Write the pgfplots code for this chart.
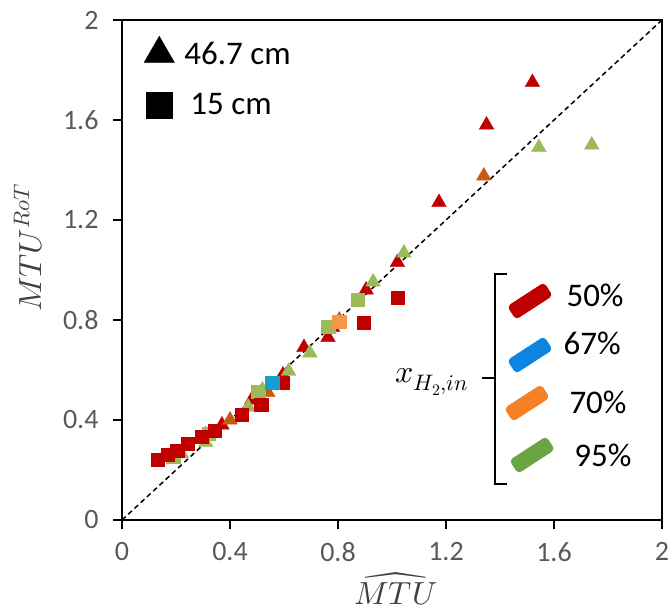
\documentclass[border=0pt]{standalone}
\usepackage{fontspec}
\usepackage{unicode-math}
\setmainfont{Carlito}
\setmathfont{Latin Modern Math}
\usepackage{pgfplots}
\pgfplotsset{compat=1.18}

\definecolor{rd}{HTML}{C00000}
\definecolor{gr}{HTML}{9BBB59}
\definecolor{br}{HTML}{C55A11}
\definecolor{bl}{HTML}{14A0CF}
\definecolor{og}{HTML}{F79646}
\definecolor{lbl}{HTML}{0B85E1}
\definecolor{log}{HTML}{F58025}
\definecolor{lgr}{HTML}{6AA443}
\definecolor{tickgray}{HTML}{595959}
\definecolor{labgray}{HTML}{404040}

\tikzset{keybar/.style={fill=#1, rounded corners=4pt, minimum width=44pt,
  minimum height=16pt, inner sep=0pt, rotate=33}}

\begin{document}
\begin{tikzpicture}
\begin{axis}[
  scale only axis, width=540pt, height=500pt,
  xmin=0, xmax=2, ymin=0, ymax=2,
  xtick={0,0.4,0.8,1.2,1.6,2}, ytick={0,0.4,0.8,1.2,1.6,2},
  xtick pos=bottom, ytick pos=left,
  tick align=outside, major tick length=9pt,
  axis line style={line width=2pt},
  tick style={line width=2pt, black},
  ticklabel style={font=\fontsize{28}{28}\selectfont, text=tickgray},
  /pgf/number format/assume math mode=true,
  xticklabel style={yshift=-10pt},
  yticklabel style={xshift=-11pt},
  xlabel={$\widehat{MTU}$},
  ylabel={$MTU^{RoT}$},
  label style={font=\fontsize{32}{32}\selectfont, text=labgray},
  xlabel style={at={(axis description cs:0.507,-0.138)}, anchor=center},
  ylabel style={at={(axis description cs:-0.174,0.545)}, anchor=center},
  clip=false,
  legend style={at={(axis description cs:0.035,0.972)}, anchor=north west,
    draw=none, fill=none, font=\fontsize{33}{33}\selectfont,
    row sep=24pt, /tikz/every odd column/.append style={column sep=8pt}},
  legend cell align=left,
  legend image code/.code={\draw[#1] plot coordinates {(14pt,0pt)};},
]
\addlegendimage{only marks, mark=triangle*, mark size=17.5pt, black}
\addlegendentry{46.7 cm}
\addlegendimage{only marks, mark=square*, mark size=13pt, black}
\addlegendentry{\hspace{6pt}15 cm}

% 1:1 line
\addplot[black, line width=1.5pt, dash pattern=on 5pt off 3.5pt, forget plot]
  coordinates {(0,0) (2,2)};

% 46.7 cm, 50 %
\addplot[only marks, mark=triangle*, mark size=8.5pt, color=rd, forget plot]
  coordinates {(1.52,1.75) (1.35,1.58) (1.174,1.27) (1.02,1.03) (0.904,0.92)
  (0.78,0.77) (0.763,0.73) (0.674,0.69) (0.596,0.58) (0.48,0.48)
  (0.37,0.38) (0.31,0.34)};
% 46.7 cm, 95 %
\addplot[only marks, mark=triangle*, mark size=8.5pt, color=gr, forget plot]
  coordinates {(1.74,1.50) (1.544,1.49) (1.044,1.068) (0.93,0.952)
  (0.696,0.668) (0.617,0.595) (0.467,0.452) (0.22,0.265) (0.31,0.31)
  (0.52,0.52)};
% 46.7 cm, 70 %
\addplot[only marks, mark=triangle*, mark size=8.5pt, color=br, forget plot]
  coordinates {(1.34,1.376) (0.805,0.80) (0.54,0.51) (0.40,0.40)};
% 15 cm, 95 %
\addplot[only marks, mark=square*, mark size=6.7pt, color=gr, forget plot]
  coordinates {(0.874,0.88) (0.763,0.772) (0.504,0.512) (0.19,0.255)
  (0.32,0.345)};
% 15 cm, 50 %
\addplot[only marks, mark=square*, mark size=6.7pt, color=rd, forget plot]
  coordinates {(0.133,0.24) (0.17,0.262) (0.204,0.278) (0.244,0.305)
  (0.296,0.333) (0.344,0.358) (0.444,0.42) (0.515,0.46) (0.595,0.55)
  (0.896,0.79) (1.02,0.89)};
% 15 cm, 67 %
\addplot[only marks, mark=square*, mark size=6.7pt, color=bl, forget plot]
  coordinates {(0.556,0.548)};
% 15 cm, 70 %
\addplot[only marks, mark=square*, mark size=6.7pt, color=og, forget plot]
  coordinates {(0.804,0.792)};

% inlet hydrogen fraction key
\draw[line width=2.5pt] (axis cs:1.426,0.984) -- (axis cs:1.381,0.984)
  -- (axis cs:1.381,0.144) -- (axis cs:1.426,0.144);
\draw[line width=2.5pt] (axis cs:1.333,0.568) -- (axis cs:1.381,0.568);
\node[font=\fontsize{32}{32}\selectfont] at (axis cs:1.148,0.552) {$x_{H_2,in}$};
\node[keybar=rd]  at (axis cs:1.511,0.876) {};
\node[keybar=lbl] at (axis cs:1.511,0.660) {};
\node[keybar=log] at (axis cs:1.500,0.468) {};
\node[keybar=lgr] at (axis cs:1.519,0.260) {};
\node[font=\fontsize{33}{33}\selectfont] at (axis cs:1.752,0.90) {50\%};
\node[font=\fontsize{33}{33}\selectfont] at (axis cs:1.741,0.708) {67\%};
\node[font=\fontsize{33}{33}\selectfont] at (axis cs:1.763,0.472) {70\%};
\node[font=\fontsize{33}{33}\selectfont] at (axis cs:1.781,0.26) {95\%};

\coordinate (bbA) at (axis cs:-0.4519,2.08);
\coordinate (bbB) at (axis cs:2.0296,-0.372);
\end{axis}
\pgfresetboundingbox
\useasboundingbox (bbA) rectangle (bbB);
\end{tikzpicture}
\end{document}
